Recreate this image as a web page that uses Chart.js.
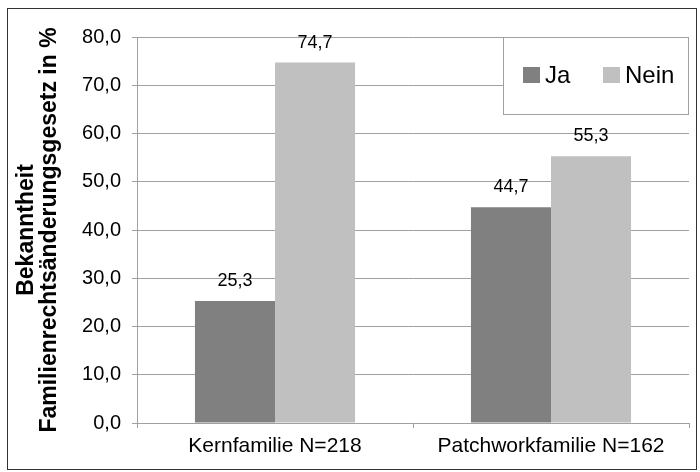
<!DOCTYPE html>
<html>
<head>
<meta charset="utf-8">
<script src="https://cdn.jsdelivr.net/npm/chart.js@4/dist/chart.umd.min.js"></script>
<style>
  html, body { margin: 0; padding: 0; background: #fff; }
  #wrap { width: 700px; height: 472px; }
</style>
</head>
<body>
<div id="wrap"><canvas id="barChart" width="700" height="472"></canvas></div>
<script>
// chart data
const categories = ["Kernfamilie N=218", "Patchworkfamilie N=162"];
const seriesNames = ["Ja", "Nein"];
const jaValues = [25.3, 44.7];
const neinValues = [74.7, 55.3];
const yTicks = [0, 10, 20, 30, 40, 50, 60, 70, 80];
const yTitle = ["Bekanntheit", "Familienrechtsänderungsgesetz in %"];

const FONT = "'Liberation Sans', Arial, sans-serif";
const fmt = (v) => v.toFixed(1).replace(".", ",");

// white background + outer frame
const framePlugin = {
  id: "frame",
  beforeDraw(chart) {
    const ctx = chart.ctx;
    ctx.save();
    ctx.fillStyle = "#fff";
    ctx.fillRect(0, 0, chart.width, chart.height);
    ctx.strokeStyle = "#333";
    ctx.lineWidth = 1;
    ctx.strokeRect(7.5, 8.5, 689, 461);
    ctx.restore();
  }
};

// value labels above bars
const valueLabels = {
  id: "valueLabels",
  afterDatasetsDraw(chart) {
    const ctx = chart.ctx;
    ctx.save();
    ctx.font = "18px " + FONT;
    ctx.fillStyle = "#000";
    ctx.textAlign = "center";
    ctx.textBaseline = "alphabetic";
    chart.data.datasets.forEach((ds, i) => {
      chart.getDatasetMeta(i).data.forEach((bar, j) => {
        ctx.fillText(fmt(ds.data[j]), bar.x, bar.y - 15);
      });
    });
    ctx.restore();
  }
};

// legend box inside the plot (top right)
const boxLegend = {
  id: "boxLegend",
  afterDraw(chart) {
    const ctx = chart.ctx;
    const x = 503.5, y = 37.5, w = 185, h = 77;
    ctx.save();
    ctx.fillStyle = "#fff";
    ctx.fillRect(x, y, w, h);
    ctx.strokeStyle = "#a0a0a0";
    ctx.lineWidth = 1;
    ctx.strokeRect(x, y, w, h);
    ctx.font = "24px " + FONT;
    ctx.textBaseline = "middle";
    ctx.textAlign = "left";
    const offsets = [19.5, 99.5];
    chart.data.datasets.forEach((ds, i) => {
      const sx = x + offsets[i];
      ctx.fillStyle = ds.backgroundColor;
      ctx.fillRect(sx, 67, 17, 16);
      ctx.fillStyle = "#000";
      ctx.fillText(ds.label, sx + 22, 76);
    });
    ctx.restore();
  }
};

const ctx = document.getElementById("barChart").getContext("2d");
new Chart(ctx, {
  type: "bar",
  data: {
    labels: categories,
    datasets: [
      { label: seriesNames[0], data: jaValues, backgroundColor: "#808080" },
      { label: seriesNames[1], data: neinValues, backgroundColor: "#c0c0c0" }
    ]
  },
  options: {
    responsive: false,
    animation: false,
    layout: { padding: { left: 15, top: 37, right: 11, bottom: 0 } },
    categoryPercentage: 0.58,
    barPercentage: 1,
    plugins: {
      legend: { display: false },
      tooltip: { enabled: false }
    },
    scales: {
      y: {
        min: 0,
        max: 80,
        afterFit: (scale) => { scale.width = 122; },
        afterBuildTicks: (scale) => { scale.ticks = yTicks.map((v) => ({ value: v })); },
        border: { color: "#a0a0a0" },
        grid: { color: "#a0a0a0", tickLength: 5 },
        ticks: {
          padding: 11,
          color: "#000",
          font: { family: FONT, size: 20 },
          callback: (v) => fmt(v)
        },
        title: {
          display: true,
          text: yTitle,
          color: "#000",
          padding: 0,
          font: { family: FONT, size: 23, weight: "bold", lineHeight: 1.0 }
        }
      },
      x: {
        afterFit: (scale) => { scale.height = 49; },
        border: { color: "#a0a0a0" },
        grid: { drawOnChartArea: false, color: "#a0a0a0", tickLength: 5, offset: true },
        ticks: {
          padding: 6,
          color: "#000",
          font: { family: FONT, size: 21 }
        }
      }
    }
  },
  plugins: [framePlugin, valueLabels, boxLegend]
});
</script>
</body>
</html>
